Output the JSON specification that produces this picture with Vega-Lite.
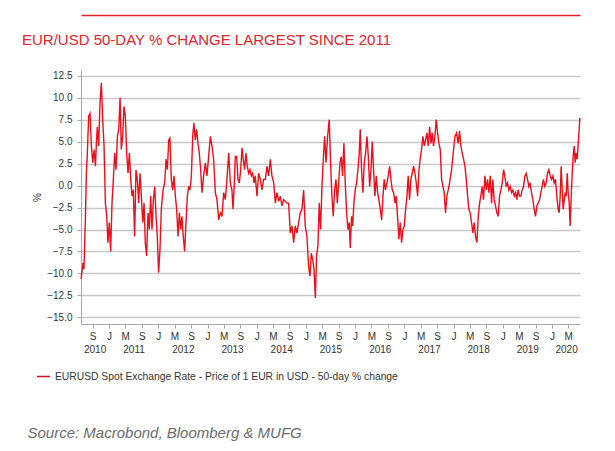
{
  "$schema": "https://vega.github.io/schema/vega-lite/v6.json",
  "width": 499,
  "height": 254,
  "autosize": {"type": "none"},
  "padding": {"left": 81, "top": 70, "right": 35, "bottom": 127},
  "background": "white",
  "title": {
    "text": "EUR/USD 50-DAY % CHANGE LARGEST SINCE 2011",
    "anchor": "start",
    "frame": "group",
    "color": "#e3232b",
    "fontSize": 15,
    "fontWeight": "normal",
    "font": "Liberation Sans",
    "baseline": "alphabetic",
    "offset": 0,
    "dx": -59,
    "dy": 45
  },
  "data": {
    "format": {"parse": {"d": "date:'%Y-%j'"}},
    "values": [
      {"d": "2010-158", "v": -10.6}, {"d": "2010-161", "v": -10.3}, {"d": "2010-173", "v": -8.8}, {"d": "2010-180", "v": -9.5},
      {"d": "2010-190", "v": -4.2}, {"d": "2010-198", "v": 1.4}, {"d": "2010-205", "v": 3.7}, {"d": "2010-215", "v": 7.9},
      {"d": "2010-225", "v": 8.2}, {"d": "2010-235", "v": 4.5}, {"d": "2010-245", "v": 2.6}, {"d": "2010-255", "v": 4.1},
      {"d": "2010-265", "v": 2.2}, {"d": "2010-272", "v": 4.8}, {"d": "2010-279", "v": 6.7}, {"d": "2010-289", "v": 4.5},
      {"d": "2010-299", "v": 9.4}, {"d": "2010-309", "v": 11.7}, {"d": "2010-319", "v": 7.5}, {"d": "2010-329", "v": 4.5},
      {"d": "2010-339", "v": -2.0}, {"d": "2010-349", "v": -3.5}, {"d": "2010-358", "v": -6.5}, {"d": "2011-003", "v": -4.2},
      {"d": "2011-013", "v": -7.5}, {"d": "2011-023", "v": -2.0}, {"d": "2011-033", "v": 0.7}, {"d": "2011-043", "v": 3.7},
      {"d": "2011-053", "v": 1.8}, {"d": "2011-063", "v": 5.6}, {"d": "2011-073", "v": 6.4}, {"d": "2011-083", "v": 10.0},
      {"d": "2011-092", "v": 4.1}, {"d": "2011-102", "v": 5.6}, {"d": "2011-112", "v": 9.0}, {"d": "2011-122", "v": 7.9},
      {"d": "2011-132", "v": 3.7}, {"d": "2011-142", "v": 1.4}, {"d": "2011-152", "v": 3.7}, {"d": "2011-162", "v": 0.7},
      {"d": "2011-172", "v": -1.2}, {"d": "2011-181", "v": -0.5}, {"d": "2011-191", "v": -5.8}, {"d": "2011-201", "v": 1.8},
      {"d": "2011-211", "v": 0.7}, {"d": "2011-221", "v": -2.0}, {"d": "2011-231", "v": 1.4}, {"d": "2011-241", "v": -1.2},
      {"d": "2011-251", "v": -4.2}, {"d": "2011-261", "v": -2.0}, {"d": "2011-270", "v": -6.5}, {"d": "2011-280", "v": -8.0},
      {"d": "2011-290", "v": -3.1}, {"d": "2011-300", "v": -5.0}, {"d": "2011-310", "v": -1.2}, {"d": "2011-320", "v": -5.0},
      {"d": "2011-330", "v": -1.6}, {"d": "2011-340", "v": -0.1}, {"d": "2011-350", "v": -3.5}, {"d": "2011-359", "v": -5.8},
      {"d": "2012-004", "v": -9.9}, {"d": "2012-014", "v": -7.3}, {"d": "2012-024", "v": -2.7}, {"d": "2012-037", "v": -0.5},
      {"d": "2012-049", "v": 0.3}, {"d": "2012-059", "v": 3.0}, {"d": "2012-069", "v": 1.8}, {"d": "2012-079", "v": 5.2},
      {"d": "2012-088", "v": 5.4}, {"d": "2012-098", "v": 0.7}, {"d": "2012-108", "v": -0.5}, {"d": "2012-118", "v": 1.1},
      {"d": "2012-128", "v": -1.2}, {"d": "2012-138", "v": -2.7}, {"d": "2012-148", "v": -5.8}, {"d": "2012-158", "v": -3.1},
      {"d": "2012-168", "v": -5.0}, {"d": "2012-177", "v": -3.5}, {"d": "2012-187", "v": -5.8}, {"d": "2012-197", "v": -7.5},
      {"d": "2012-207", "v": -4.2}, {"d": "2012-217", "v": -1.2}, {"d": "2012-227", "v": -0.1}, {"d": "2012-237", "v": -0.5},
      {"d": "2012-247", "v": 1.1}, {"d": "2012-257", "v": 5.6}, {"d": "2012-266", "v": 7.1}, {"d": "2012-276", "v": 5.2},
      {"d": "2012-286", "v": 6.4}, {"d": "2012-296", "v": 4.8}, {"d": "2012-306", "v": 3.7}, {"d": "2012-316", "v": 1.8},
      {"d": "2012-326", "v": -0.8}, {"d": "2012-338", "v": 1.1}, {"d": "2012-351", "v": 2.6}, {"d": "2012-363", "v": 1.1},
      {"d": "2013-009", "v": 3.3}, {"d": "2013-022", "v": 5.6}, {"d": "2013-034", "v": 4.5}, {"d": "2013-046", "v": 3.0},
      {"d": "2013-059", "v": -0.8}, {"d": "2013-071", "v": -1.6}, {"d": "2013-084", "v": -3.9}, {"d": "2013-096", "v": -3.1},
      {"d": "2013-108", "v": -3.5}, {"d": "2013-121", "v": -0.8}, {"d": "2013-133", "v": -1.6}, {"d": "2013-145", "v": 0.7},
      {"d": "2013-158", "v": 3.7}, {"d": "2013-170", "v": 0.3}, {"d": "2013-182", "v": -0.5}, {"d": "2013-190", "v": -2.7},
      {"d": "2013-200", "v": 0.3}, {"d": "2013-207", "v": 3.3}, {"d": "2013-217", "v": 3.3}, {"d": "2013-227", "v": 0.7},
      {"d": "2013-237", "v": 0.3}, {"d": "2013-247", "v": 1.8}, {"d": "2013-257", "v": 4.3}, {"d": "2013-266", "v": 3.0},
      {"d": "2013-276", "v": 1.8}, {"d": "2013-286", "v": 3.7}, {"d": "2013-296", "v": 2.2}, {"d": "2013-306", "v": 1.4},
      {"d": "2013-316", "v": 1.8}, {"d": "2013-326", "v": 1.1}, {"d": "2013-336", "v": 1.4}, {"d": "2013-346", "v": 0.3},
      {"d": "2013-355", "v": 1.1}, {"d": "2014-003", "v": -1.2}, {"d": "2014-015", "v": 1.4}, {"d": "2014-028", "v": 0.7},
      {"d": "2014-040", "v": -0.5}, {"d": "2014-052", "v": 0.7}, {"d": "2014-065", "v": 0.7}, {"d": "2014-077", "v": 2.2},
      {"d": "2014-089", "v": 1.1}, {"d": "2014-102", "v": 3.0}, {"d": "2014-114", "v": 1.1}, {"d": "2014-127", "v": 0.3},
      {"d": "2014-139", "v": -2.0}, {"d": "2014-151", "v": -0.8}, {"d": "2014-164", "v": -1.8}, {"d": "2014-176", "v": -1.2},
      {"d": "2014-188", "v": -2.3}, {"d": "2014-201", "v": -1.6}, {"d": "2014-213", "v": -1.8}, {"d": "2014-225", "v": -2.0},
      {"d": "2014-238", "v": -2.0}, {"d": "2014-250", "v": -5.4}, {"d": "2014-263", "v": -4.6}, {"d": "2014-275", "v": -6.5},
      {"d": "2014-287", "v": -4.6}, {"d": "2014-300", "v": -5.4}, {"d": "2014-312", "v": -4.2}, {"d": "2014-324", "v": -3.1},
      {"d": "2014-337", "v": -2.7}, {"d": "2014-349", "v": -0.5}, {"d": "2014-361", "v": -4.6}, {"d": "2015-009", "v": -5.8},
      {"d": "2015-021", "v": -9.2}, {"d": "2015-031", "v": -10.3}, {"d": "2015-041", "v": -7.7}, {"d": "2015-051", "v": -8.4},
      {"d": "2015-061", "v": -9.5}, {"d": "2015-071", "v": -12.8}, {"d": "2015-080", "v": -8.0}, {"d": "2015-090", "v": -6.9},
      {"d": "2015-100", "v": -2.0}, {"d": "2015-110", "v": -5.0}, {"d": "2015-120", "v": -0.1}, {"d": "2015-130", "v": 3.0},
      {"d": "2015-140", "v": 5.6}, {"d": "2015-150", "v": 2.6}, {"d": "2015-162", "v": 5.6}, {"d": "2015-174", "v": 7.5},
      {"d": "2015-184", "v": 2.6}, {"d": "2015-194", "v": -1.2}, {"d": "2015-204", "v": -3.5}, {"d": "2015-214", "v": -0.5},
      {"d": "2015-224", "v": 0.7}, {"d": "2015-234", "v": -2.0}, {"d": "2015-244", "v": 0.3}, {"d": "2015-254", "v": 2.6},
      {"d": "2015-263", "v": 3.3}, {"d": "2015-273", "v": 1.1}, {"d": "2015-283", "v": 4.8}, {"d": "2015-293", "v": 0.3},
      {"d": "2015-303", "v": -3.1}, {"d": "2015-313", "v": -5.0}, {"d": "2015-323", "v": -4.2}, {"d": "2015-330", "v": -7.1},
      {"d": "2015-340", "v": -3.5}, {"d": "2015-348", "v": -4.6}, {"d": "2015-357", "v": -2.0}, {"d": "2016-002", "v": -0.5},
      {"d": "2016-012", "v": 0.3}, {"d": "2016-022", "v": 1.8}, {"d": "2016-032", "v": 3.7}, {"d": "2016-039", "v": 6.4},
      {"d": "2016-049", "v": 1.8}, {"d": "2016-059", "v": -0.8}, {"d": "2016-069", "v": 2.6}, {"d": "2016-079", "v": 3.7},
      {"d": "2016-089", "v": 5.6}, {"d": "2016-099", "v": 3.3}, {"d": "2016-109", "v": -0.1}, {"d": "2016-119", "v": 1.8},
      {"d": "2016-128", "v": 5.0}, {"d": "2016-138", "v": 1.8}, {"d": "2016-148", "v": -1.2}, {"d": "2016-158", "v": 1.1},
      {"d": "2016-168", "v": -0.8}, {"d": "2016-178", "v": -1.6}, {"d": "2016-188", "v": -2.7}, {"d": "2016-198", "v": -3.9},
      {"d": "2016-208", "v": -1.2}, {"d": "2016-217", "v": 0.7}, {"d": "2016-227", "v": -0.5}, {"d": "2016-237", "v": 0.3},
      {"d": "2016-247", "v": 1.1}, {"d": "2016-257", "v": 2.2}, {"d": "2016-267", "v": 0.7}, {"d": "2016-277", "v": -0.5},
      {"d": "2016-287", "v": -0.8}, {"d": "2016-297", "v": -2.0}, {"d": "2016-306", "v": -1.2}, {"d": "2016-316", "v": -3.5},
      {"d": "2016-326", "v": -6.1}, {"d": "2016-336", "v": -4.2}, {"d": "2016-346", "v": -6.5}, {"d": "2016-356", "v": -5.0},
      {"d": "2016-366", "v": -4.6}, {"d": "2017-010", "v": -2.7}, {"d": "2017-020", "v": -1.2}, {"d": "2017-029", "v": 1.1},
      {"d": "2017-039", "v": -1.6}, {"d": "2017-049", "v": 0.7}, {"d": "2017-059", "v": 1.4}, {"d": "2017-069", "v": 2.2},
      {"d": "2017-079", "v": 1.4}, {"d": "2017-089", "v": 0.3}, {"d": "2017-099", "v": -1.2}, {"d": "2017-109", "v": 1.8},
      {"d": "2017-118", "v": 3.0}, {"d": "2017-128", "v": 4.1}, {"d": "2017-138", "v": 5.6}, {"d": "2017-148", "v": 4.5},
      {"d": "2017-158", "v": 5.2}, {"d": "2017-168", "v": 6.0}, {"d": "2017-178", "v": 4.5}, {"d": "2017-188", "v": 6.7},
      {"d": "2017-198", "v": 4.8}, {"d": "2017-207", "v": 6.0}, {"d": "2017-217", "v": 4.5}, {"d": "2017-227", "v": 5.6},
      {"d": "2017-237", "v": 7.5}, {"d": "2017-247", "v": 6.0}, {"d": "2017-257", "v": 4.8}, {"d": "2017-267", "v": 4.1},
      {"d": "2017-277", "v": 0.7}, {"d": "2017-287", "v": -0.1}, {"d": "2017-296", "v": -0.8}, {"d": "2017-306", "v": -3.1},
      {"d": "2017-316", "v": -1.2}, {"d": "2017-326", "v": -0.5}, {"d": "2017-336", "v": 0.3}, {"d": "2017-351", "v": 1.8},
      {"d": "2017-363", "v": 3.7}, {"d": "2018-011", "v": 5.6}, {"d": "2018-023", "v": 6.0}, {"d": "2018-035", "v": 4.8},
      {"d": "2018-045", "v": 6.2}, {"d": "2018-055", "v": 4.5}, {"d": "2018-065", "v": 3.7}, {"d": "2018-075", "v": 3.0},
      {"d": "2018-085", "v": 2.2}, {"d": "2018-095", "v": 0.7}, {"d": "2018-105", "v": -1.2}, {"d": "2018-114", "v": -2.7},
      {"d": "2018-124", "v": -3.1}, {"d": "2018-134", "v": -4.2}, {"d": "2018-144", "v": -5.4}, {"d": "2018-154", "v": -4.2},
      {"d": "2018-164", "v": -5.8}, {"d": "2018-174", "v": -6.5}, {"d": "2018-184", "v": -3.5}, {"d": "2018-194", "v": -2.0},
      {"d": "2018-203", "v": -1.2}, {"d": "2018-213", "v": -0.1}, {"d": "2018-223", "v": -1.6}, {"d": "2018-233", "v": 1.1},
      {"d": "2018-243", "v": -0.5}, {"d": "2018-253", "v": 0.7}, {"d": "2018-263", "v": -0.8}, {"d": "2018-273", "v": 1.1},
      {"d": "2018-283", "v": -2.0}, {"d": "2018-292", "v": 0.7}, {"d": "2018-302", "v": -1.6}, {"d": "2018-312", "v": -2.3},
      {"d": "2018-322", "v": -3.1}, {"d": "2018-332", "v": -3.5}, {"d": "2018-342", "v": -1.2}, {"d": "2018-352", "v": -0.5},
      {"d": "2018-362", "v": 0.3}, {"d": "2019-007", "v": 1.8}, {"d": "2019-016", "v": 1.1}, {"d": "2019-026", "v": -0.1},
      {"d": "2019-036", "v": 0.3}, {"d": "2019-046", "v": -0.5}, {"d": "2019-056", "v": -0.1}, {"d": "2019-066", "v": -0.8},
      {"d": "2019-076", "v": -0.5}, {"d": "2019-086", "v": -1.2}, {"d": "2019-096", "v": -0.8}, {"d": "2019-105", "v": -1.6},
      {"d": "2019-115", "v": -0.5}, {"d": "2019-125", "v": -1.2}, {"d": "2019-135", "v": -1.2}, {"d": "2019-145", "v": -0.5},
      {"d": "2019-155", "v": -0.1}, {"d": "2019-165", "v": 1.1}, {"d": "2019-175", "v": 1.4}, {"d": "2019-185", "v": 0.7},
      {"d": "2019-194", "v": -0.1}, {"d": "2019-204", "v": 0.3}, {"d": "2019-214", "v": -0.8}, {"d": "2019-224", "v": -1.6},
      {"d": "2019-234", "v": -2.7}, {"d": "2019-244", "v": -3.5}, {"d": "2019-254", "v": -2.3}, {"d": "2019-264", "v": -2.0},
      {"d": "2019-274", "v": -1.6}, {"d": "2019-284", "v": -0.8}, {"d": "2019-293", "v": -0.1}, {"d": "2019-303", "v": 0.7},
      {"d": "2019-313", "v": -0.1}, {"d": "2019-323", "v": 0.3}, {"d": "2019-333", "v": 1.4}, {"d": "2019-343", "v": 1.8},
      {"d": "2019-353", "v": 1.1}, {"d": "2019-363", "v": 0.7}, {"d": "2020-008", "v": 1.1}, {"d": "2020-017", "v": 0.3},
      {"d": "2020-027", "v": 0.7}, {"d": "2020-037", "v": -1.2}, {"d": "2020-047", "v": -2.7}, {"d": "2020-054", "v": -3.1},
      {"d": "2020-062", "v": -1.2}, {"d": "2020-069", "v": 2.2}, {"d": "2020-077", "v": -0.5}, {"d": "2020-084", "v": -2.7},
      {"d": "2020-092", "v": -1.6}, {"d": "2020-099", "v": -0.8}, {"d": "2020-106", "v": -1.2}, {"d": "2020-114", "v": 1.4},
      {"d": "2020-121", "v": -0.8}, {"d": "2020-129", "v": -2.0}, {"d": "2020-136", "v": -4.6}, {"d": "2020-144", "v": -1.2},
      {"d": "2020-151", "v": 1.4}, {"d": "2020-158", "v": 3.3}, {"d": "2020-166", "v": 4.5}, {"d": "2020-173", "v": 2.6},
      {"d": "2020-181", "v": 3.7}, {"d": "2020-188", "v": 3.0}, {"d": "2020-196", "v": 4.8}, {"d": "2020-203", "v": 6.4},
      {"d": "2020-208", "v": 7.7}
    ]
  },
  "encoding": {
    "y": {
      "field": "v",
      "type": "quantitative",
      "scale": {"domain": [-15.75, 13.15], "nice": false, "zero": false},
      "axis": {
        "title": "%",
        "values": [-15, -12.5, -10, -7.5, -5, -2.5, 0, 2.5, 5, 7.5, 10, 12.5],
        "format": ".1f",
        "labelFontSize": 10,
        "labelColor": "#333333",
        "labelPadding": 5,
        "tickSize": 4,
        "tickColor": "#a8a8a8",
        "domainColor": "#a8a8a8",
        "gridColor": "#c8c8c8",
        "gridWidth": 1.5,
        "titleFontSize": 10,
        "titleFontWeight": "normal",
        "titleColor": "#333333",
        "titlePadding": 4
      }
    }
  },
  "layer": [
    {
      "mark": {"type": "line", "strokeWidth": 1.4},
      "encoding": {
        "x": {
          "field": "d",
          "type": "temporal",
          "scale": {"domain": [{"year": 2010, "month": 6, "date": 7}, {"year": 2020, "month": 7, "date": 27}]},
          "axis": {
            "orient": "bottom",
            "title": null,
            "values": [
              {"year": 2010, "month": 9, "date": 1},
              {"year": 2011, "month": 1, "date": 1}, {"year": 2011, "month": 5, "date": 1}, {"year": 2011, "month": 9, "date": 1},
              {"year": 2012, "month": 1, "date": 1}, {"year": 2012, "month": 5, "date": 1}, {"year": 2012, "month": 9, "date": 1},
              {"year": 2013, "month": 1, "date": 1}, {"year": 2013, "month": 5, "date": 1}, {"year": 2013, "month": 9, "date": 1},
              {"year": 2014, "month": 1, "date": 1}, {"year": 2014, "month": 5, "date": 1}, {"year": 2014, "month": 9, "date": 1},
              {"year": 2015, "month": 1, "date": 1}, {"year": 2015, "month": 5, "date": 1}, {"year": 2015, "month": 9, "date": 1},
              {"year": 2016, "month": 1, "date": 1}, {"year": 2016, "month": 5, "date": 1}, {"year": 2016, "month": 9, "date": 1},
              {"year": 2017, "month": 1, "date": 1}, {"year": 2017, "month": 5, "date": 1}, {"year": 2017, "month": 9, "date": 1},
              {"year": 2018, "month": 1, "date": 1}, {"year": 2018, "month": 5, "date": 1}, {"year": 2018, "month": 9, "date": 1},
              {"year": 2019, "month": 1, "date": 1}, {"year": 2019, "month": 5, "date": 1}, {"year": 2019, "month": 9, "date": 1},
              {"year": 2020, "month": 1, "date": 1}, {"year": 2020, "month": 5, "date": 1}
            ],
            "labelExpr": "month(datum.value) == 0 ? 'J' : (month(datum.value) == 4 ? 'M' : 'S')",
            "grid": false,
            "tickSize": 4,
            "tickColor": "#a8a8a8",
            "domainColor": "#a8a8a8",
            "labelFontSize": 10,
            "labelColor": "#333333",
            "labelPadding": 3,
            "labelFlush": false,
            "labelOverlap": false
          }
        },
        "color": {
          "datum": "EURUSD Spot Exchange Rate - Price of 1 EUR in USD - 50-day % change",
          "type": "nominal",
          "scale": {"range": ["#e8101a"]},
          "legend": {
            "orient": "none",
            "legendX": -45,
            "legendY": 299,
            "title": null,
            "padding": 0,
            "symbolType": "stroke",
            "symbolStrokeWidth": 1.5,
            "symbolSize": 170,
            "labelOffset": 4,
            "labelFontSize": 10.3,
            "labelColor": "#333333",
            "labelLimit": 600
          }
        }
      }
    },
    {
      "mark": {"type": "line", "opacity": 0},
      "encoding": {
        "x": {
          "field": "d",
          "type": "temporal",
          "scale": {"domain": [{"year": 2010, "month": 6, "date": 7}, {"year": 2020, "month": 7, "date": 27}]},
          "axis": {
            "orient": "top",
            "offset": 55,
            "title": null,
            "labels": false,
            "ticks": false,
            "grid": false,
            "domainColor": "#e3232b",
            "domainWidth": 1.5
          }
        }
      }
    },
    {
      "mark": {"type": "line", "opacity": 0},
      "encoding": {
        "x": {
          "field": "d",
          "type": "temporal",
          "scale": {"domain": [{"year": 2010, "month": 6, "date": 7}, {"year": 2020, "month": 7, "date": 27}]},
          "axis": {
            "orient": "bottom",
            "values": [
              {"year": 2010, "month": 9, "date": 16},
              {"year": 2011, "month": 7, "date": 2}, {"year": 2012, "month": 7, "date": 2}, {"year": 2013, "month": 7, "date": 2},
              {"year": 2014, "month": 7, "date": 2}, {"year": 2015, "month": 7, "date": 2}, {"year": 2016, "month": 7, "date": 2},
              {"year": 2017, "month": 7, "date": 2}, {"year": 2018, "month": 7, "date": 2}, {"year": 2019, "month": 7, "date": 2},
              {"year": 2020, "month": 4, "date": 15}
            ],
            "format": "%Y",
            "grid": false,
            "ticks": false,
            "domain": false,
            "labelFontSize": 10,
            "labelColor": "#333333",
            "labelPadding": 20,
            "labelFlush": false,
            "labelOverlap": false,
            "title": "Source: Macrobond, Bloomberg & MUFG",
            "titleFontSize": 15,
            "titleFontStyle": "italic",
            "titleFontWeight": "normal",
            "titleColor": "#6b6b6b",
            "titleAnchor": "start",
            "titleAlign": "left",
            "titleBaseline": "alphabetic",
            "titleX": -54,
            "titleY": 113
          }
        }
      }
    }
  ],
  "resolve": {"axis": {"x": "independent"}},
  "config": {
    "view": {"stroke": null},
    "font": "Liberation Sans"
  }
}
